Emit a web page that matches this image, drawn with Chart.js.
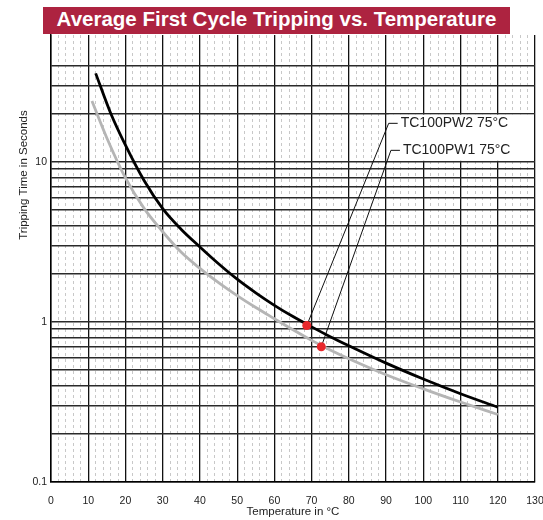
<!DOCTYPE html>
<html>
<head>
<meta charset="utf-8">
<script src="https://cdn.jsdelivr.net/npm/chart.js@4"></script>
<style>
  body { margin: 0; background: #fff; }
  #wrap { position: relative; width: 543px; height: 520px; }
  #tripChart { position: absolute; left: 0; top: 0; }
  #title {
    position: absolute; left: 43px; top: 7px; width: 467px; height: 27px;
    background: #ad2340; color: #fff; text-align: center; line-height: 27px;
    font: bold 20.5px 'Liberation Sans', Arial, sans-serif;
  }
</style>
</head>
<body>
<div id="wrap">
  <canvas id="tripChart" width="543" height="520"></canvas>
  <div id="title">Average First Cycle Tripping vs. Temperature</div>
</div>
<script>
// TC100PW2 (black curve)
const tempPW2 = [12, 16, 20, 25, 30, 35, 40, 45, 50, 55, 60, 65, 70, 75, 80, 90, 100, 110, 120];
const tripPW2 = [35.7, 20.2, 12.7, 7.64, 5.10, 3.78, 2.94, 2.31, 1.85, 1.52, 1.27, 1.08, 0.931, 0.809, 0.710, 0.553, 0.440, 0.356, 0.293];

// TC100PW (grey curve)
const tempPW = [11, 15, 20, 25, 30, 35, 40, 45, 50, 55, 60, 65, 70, 75, 80, 90, 100, 110, 120];
const tripPW = [24.0, 14.1, 7.93, 5.12, 3.66, 2.72, 2.16, 1.76, 1.46, 1.23, 1.047, 0.893, 0.767, 0.668, 0.589, 0.468, 0.382, 0.316, 0.264];

// 75°C markers and their labels
const markerTemp = [68.7, 72.6];
const markerTrip = [0.95, 0.70];
const markerNames = ['TC100PW2 75°C', 'TC100PW1 75°C'];
const labelTemp = [90.7, 91.3];
const labelTrip = [17.4, 11.8];

// axes
const yGridValues = [0.1, 0.2, 0.3, 0.4, 0.5, 0.6, 0.7, 0.8, 0.9, 1, 2, 3, 4, 5, 6, 7, 8, 9, 10, 20, 30, 40];
const yLabelValues = [0.1, 1, 10];

const toXY = (xs, ys) => xs.map((x, i) => ({ x: x, y: ys[i] }));
const sans = "'Liberation Sans', Arial, sans-serif";

const notes = {
  id: 'notes',
  beforeDatasetsDraw(chart) {
    const { ctx, scales: { x, y } } = chart;
    ctx.save();
    // white box behind the labels
    const bx = x.getPixelForValue(labelTemp[0]);
    const by = y.getPixelForValue(20);
    ctx.fillStyle = '#fff';
    ctx.fillRect(bx, by + 1, x.getPixelForValue(130) - bx - 1, y.getPixelForValue(10) - by - 2);
    // leader lines
    ctx.strokeStyle = '#111';
    ctx.lineWidth = 1;
    markerNames.forEach((name, i) => {
      const lx = x.getPixelForValue(labelTemp[i]);
      const ly = y.getPixelForValue(labelTrip[i]);
      ctx.beginPath();
      ctx.moveTo(x.getPixelForValue(markerTemp[i]), y.getPixelForValue(markerTrip[i]));
      ctx.lineTo(lx, ly);
      ctx.lineTo(lx + 9, ly);
      ctx.stroke();
      ctx.fillStyle = '#222';
      ctx.font = '14px ' + sans;
      ctx.textBaseline = 'middle';
      ctx.fillText(name, lx + 12, ly);
    });
    ctx.restore();
  },
  afterDraw(chart) {
    const { ctx } = chart;
    ctx.save();
    ctx.translate(24, 175);
    ctx.rotate(-Math.PI / 2);
    ctx.font = '11.5px ' + sans;
    ctx.fillStyle = '#222';
    ctx.textAlign = 'center';
    ctx.textBaseline = 'middle';
    ctx.fillText('Tripping Time in Seconds', 0, 0);
    ctx.restore();
  }
};

new Chart(document.getElementById('tripChart'), {
  type: 'line',
  data: {
    datasets: [{
      label: '75°C',
      data: toXY(markerTemp, markerTrip),
      showLine: false,
      pointRadius: 4.5,
      pointBackgroundColor: '#e8282c',
      pointBorderWidth: 0
    }, {
      label: 'TC100PW2',
      data: toXY(tempPW2, tripPW2),
      borderColor: '#000',
      borderWidth: 2.8,
      pointRadius: 0,
      cubicInterpolationMode: 'monotone'
    }, {
      label: 'TC100PW',
      data: toXY(tempPW, tripPW),
      borderColor: '#b5b5b5',
      borderWidth: 2.8,
      pointRadius: 0,
      cubicInterpolationMode: 'monotone'
    }]
  },
  options: {
    responsive: false,
    devicePixelRatio: 1,
    animation: false,
    layout: { padding: { top: 35, right: 2, left: 0, bottom: 0 } },
    plugins: { legend: { display: false }, tooltip: { enabled: false } },
    scales: {
      x: {
        type: 'linear',
        min: 0,
        max: 130,
        afterFit: s => { s.height = 38; s.paddingRight = 8; s.paddingLeft = 0; },
        ticks: { stepSize: 10, padding: 13, color: '#222', font: { size: 10.5, family: sans } },
        grid: { color: '#111', lineWidth: 1.3, drawTicks: false },
        border: { color: '#000', width: 1.5 },
        title: {
          display: true,
          text: 'Temperature in °C',
          color: '#222',
          padding: { top: 0, bottom: 1 },
          font: { size: 11.5, family: sans }
        }
      },
      xMinor: {
        type: 'linear',
        position: 'top',
        min: 0,
        max: 130,
        afterFit: s => { s.height = 0; s.paddingRight = 0; s.paddingLeft = 0; },
        ticks: { display: false, stepSize: 2 },
        grid: {
          drawTicks: false,
          lineWidth: 1,
          color: c => (c.tick && c.tick.value % 10 === 0) ? 'rgba(0,0,0,0)' : '#c8c8c8'
        },
        border: { display: false, dash: [3, 3] }
      },
      y: {
        type: 'logarithmic',
        min: 0.1,
        max: 62,
        afterFit: s => { s.width = 51; },
        afterBuildTicks: s => { s.ticks = yGridValues.map(v => ({ value: v })); },
        ticks: {
          padding: 4,
          color: '#222',
          font: { size: 10.5, family: sans },
          callback: v => yLabelValues.includes(v) ? String(v) : ''
        },
        grid: { color: '#2a2a2a', lineWidth: 1.5, drawTicks: false },
        border: { color: '#000', width: 1.5 }
      }
    }
  },
  plugins: [notes]
});
</script>
</body>
</html>
